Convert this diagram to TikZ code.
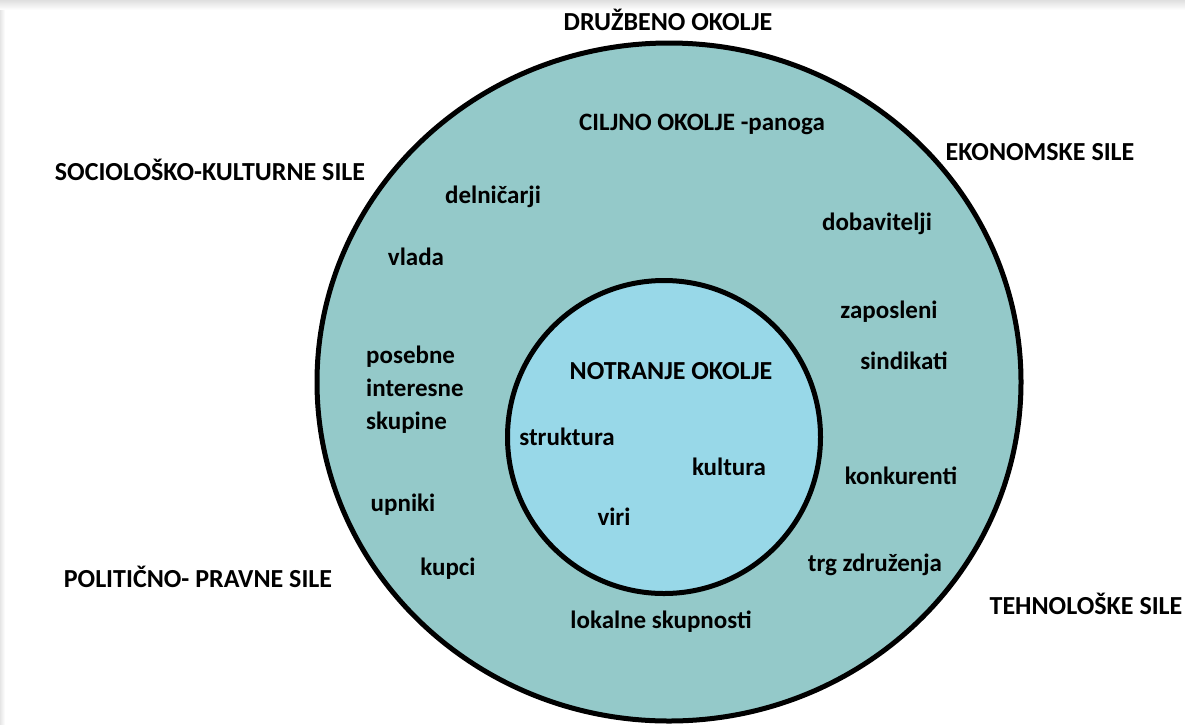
\documentclass[tikz,border=0pt]{standalone}
\usepackage{fontspec}
\setmainfont{Carlito}
\usetikzlibrary{shapes.geometric}
\definecolor{outerfill}{HTML}{94C9C9}
\definecolor{innerfill}{HTML}{98D8E8}
\tikzset{
  lbl/.style={font=\bfseries\fontsize{25}{33}\selectfont, inner sep=0pt, text height=0.62em, text depth=0.2em, anchor=center, yshift=-6pt},
  caplbl/.style={lbl, font=\bfseries\fontsize{26}{33}\selectfont},
  ring/.style={draw=black, line width=5pt},
}
\begin{document}
\begin{tikzpicture}[x=1pt,y=-1pt]
\useasboundingbox (0,0) rectangle (1185,724);
\fill[white] (0,0) rectangle (1185,724);
\shade[top color=gray!25, bottom color=white] (0,0) rectangle (1185,10);
\shade[left color=gray!20, right color=white] (0,10) rectangle (5,724);
% circles
\node[ring, fill=outerfill, ellipse, minimum width=704pt, minimum height=678pt, inner sep=0pt] (outer) at (669,382) {};
\node[ring, fill=innerfill, circle, minimum size=313pt, inner sep=0pt] (inner) at (664,437) {};
% labels outside
\node[caplbl] (druzbeno) at (668,22) {DRUŽBENO OKOLJE};
\node[caplbl] (ekon) at (1040,152) {EKONOMSKE SILE};
\node[caplbl] (socio) at (210,172) {SOCIOLOŠKO-KULTURNE SILE};
\node[caplbl] (polit) at (198,579) {POLITIČNO- PRAVNE SILE};
\node[caplbl] (tehno) at (1086,606) {TEHNOLOŠKE SILE};
% target environment
\node[lbl] (ciljno) at (702,122) {CILJNO OKOLJE -panoga};
\node[lbl] (delnicarji) at (493,195) {delničarji};
\node[lbl] (dobavitelji) at (877,222) {dobavitelji};
\node[lbl] (vlada) at (416,257) {vlada};
\node[lbl] (zaposleni) at (889,310) {zaposleni};
\node[lbl, text height=, text depth=, align=left, anchor=west] (posebne) at (366,384) {posebne\\interesne\\skupine};
\node[lbl] (sindikati) at (904,361) {sindikati};
\node[lbl] (konkurenti) at (901,476) {konkurenti};
\node[lbl] (upniki) at (403,503) {upniki};
\node[lbl] (kupci) at (448,567) {kupci};
\node[lbl] (trg) at (875,563) {trg združenja};
\node[lbl] (lokalne) at (661,620) {lokalne skupnosti};
% internal environment
\node[caplbl] (notranje) at (671,371) {NOTRANJE OKOLJE};
\node[lbl] (struktura) at (567,437) {struktura};
\node[lbl] (kultura) at (729,467) {kultura};
\node[lbl] (viri) at (614,517) {viri};
\end{tikzpicture}
\end{document}
